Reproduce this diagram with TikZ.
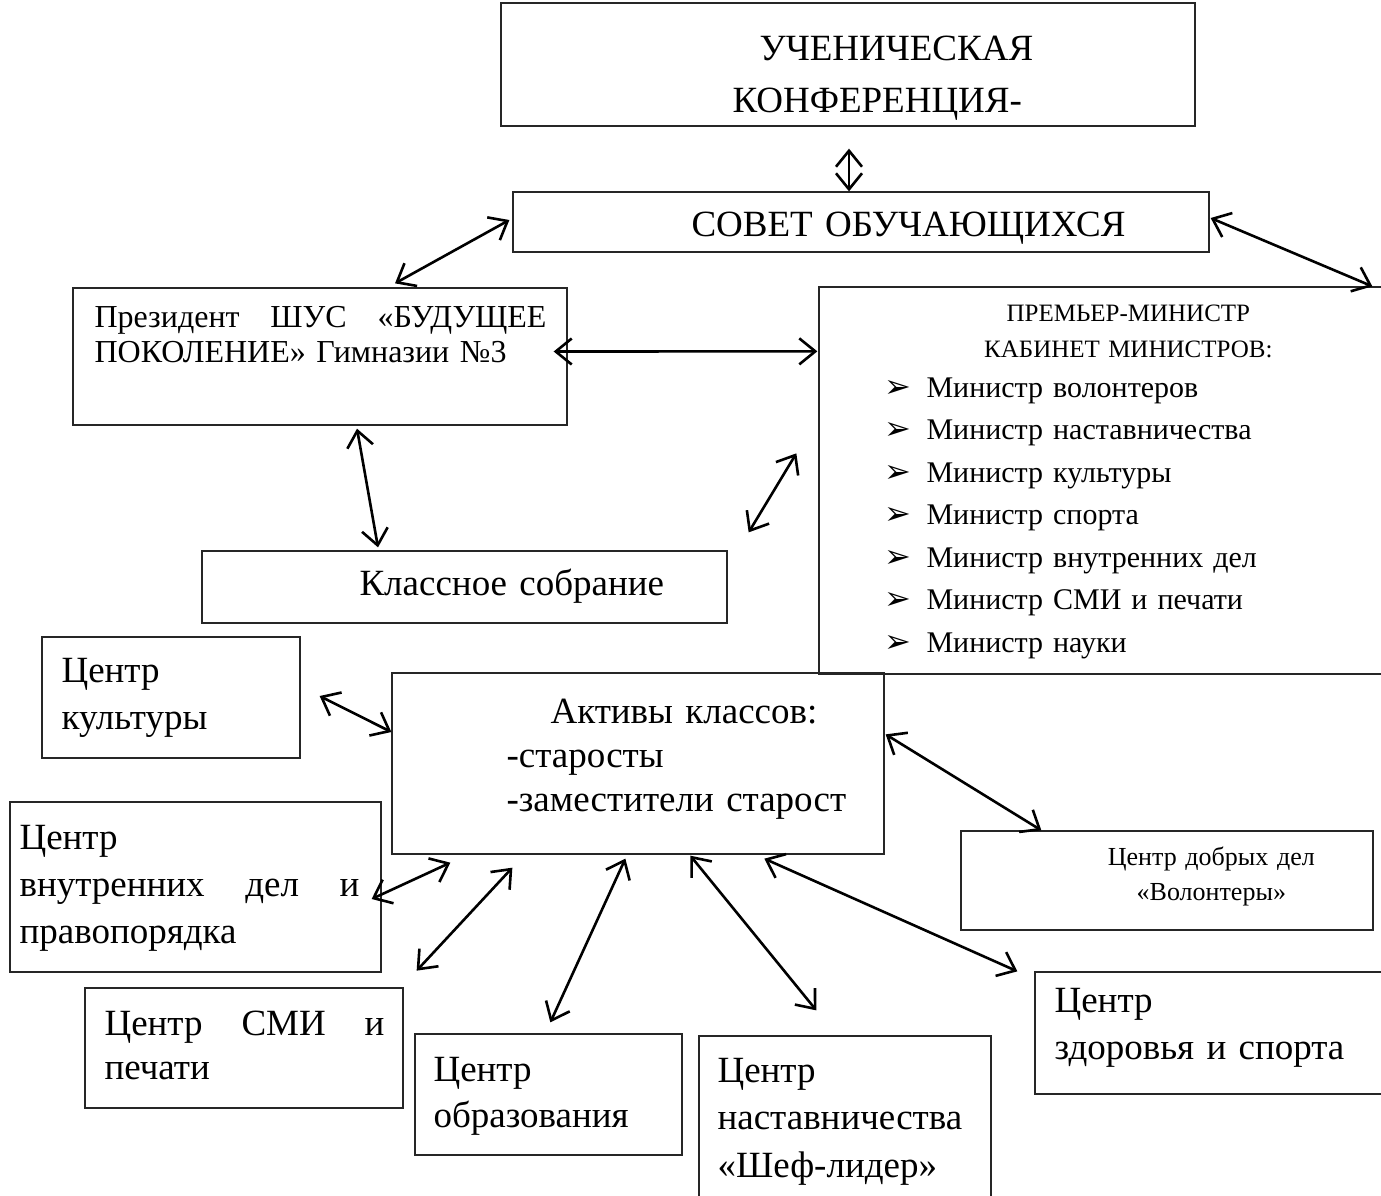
\documentclass[tikz,border=0pt]{standalone}
\usepackage{fontspec}
\setmainfont{Liberation Serif}
\newfontfamily\symfont{DejaVu Sans}
\usetikzlibrary{arrows.meta,calc}

\begin{document}
\begin{tikzpicture}[x=1pt,y=-1pt,
  box/.style={draw=black!85,line width=1.3pt,inner sep=0pt},
  txt/.style={anchor=base west,inner sep=0pt,text width=#1,align=left},
  ctxt/.style={anchor=base,inner sep=0pt,text width=#1,align=center},
  dbl/.style={{Straight Barb[length=16pt,width=26pt]}-{Straight Barb[length=16pt,width=26pt]},line width=2.6pt}]
\useasboundingbox (0,0) rectangle (1381,1195);
\clip (0,0) rectangle (1381,1195);
% boxes
\node[box,minimum width=694,minimum height=123] (konf) at (848,64.5) {};
\node[box,minimum width=696,minimum height=60] (sovet) at (861,222) {};
\node[box,minimum width=494,minimum height=137] (prez) at (320,356.5) {};
\node[box,minimum width=581,minimum height=387] (prem) at (1109.5,480.5) {};
\node[box,minimum width=525,minimum height=72] (klass) at (464.5,587) {};
\node[box,minimum width=258,minimum height=121] (kult) at (171,697.5) {};
\node[box,minimum width=492,minimum height=181] (aktiv) at (638,763.5) {};
\node[box,minimum width=371,minimum height=170] (vnutr) at (195.5,887) {};
\node[box,minimum width=412,minimum height=99] (dobr) at (1167,880.5) {};
\node[box,minimum width=318,minimum height=120] (smi) at (244,1048) {};
\node[box,minimum width=267,minimum height=121] (obraz) at (548.5,1094.5) {};
\node[box,minimum width=292,minimum height=194] (nast) at (845,1133) {};
\node[box,minimum width=365,minimum height=122] (zdor) at (1217.5,1033) {};
% texts
\node[txt=400,font=\fontsize{37}{52}\selectfont] (konf-t) at ($(konf.north west)+(232,58)$)
  {\hspace*{27pt}УЧЕНИЧЕСКАЯ\\КОНФЕРЕНЦИЯ-};
\node[txt=500,font=\fontsize{37}{44}\selectfont] (sovet-t) at ($(sovet.north west)+(179,45)$)
  {СОВЕТ ОБУЧАЮЩИХСЯ};
\node[txt=460,font=\fontsize{32}{35}\selectfont] (prez-t) at ($(prez.north west)+(22,40)$)
  {\makebox[452pt][s]{Президент\hfill ШУС\hfill «БУДУЩЕЕ}\\ПОКОЛЕНИЕ» Гимназии №3};
\node[ctxt=400,font=\fontsize{25}{36}\selectfont] (prem-t) at ($(prem.north west)+(310,35)$)
  {ПРЕМЬЕР-МИНИСТР\\КАБИНЕТ МИНИСТРОВ:};
\node[txt=480,font=\fontsize{30}{42.5}\selectfont] (prem-l) at ($(prem.north west)+(66,111)$)
  {\makebox[42pt][l]{\symfont\fontsize{32}{32}\selectfont ➢}Министр волонтеров\\
   \makebox[42pt][l]{\symfont\fontsize{32}{32}\selectfont ➢}Министр наставничества\\
   \makebox[42pt][l]{\symfont\fontsize{32}{32}\selectfont ➢}Министр культуры\\
   \makebox[42pt][l]{\symfont\fontsize{32}{32}\selectfont ➢}Министр спорта\\
   \makebox[42pt][l]{\symfont\fontsize{32}{32}\selectfont ➢}Министр внутренних дел\\
   \makebox[42pt][l]{\symfont\fontsize{32}{32}\selectfont ➢}Министр СМИ и печати\\
   \makebox[42pt][l]{\symfont\fontsize{32}{32}\selectfont ➢}Министр науки};
\node[txt=400,font=\fontsize{37}{47}\selectfont] (klass-t) at ($(klass.north west)+(158,45)$)
  {Классное собрание};
\node[txt=240,font=\fontsize{37}{47}\selectfont] (kult-t) at ($(kult.north west)+(20,46)$)
  {Центр\\культуры};
\node[txt=440,font=\fontsize{37}{44}\selectfont] (aktiv-t) at ($(aktiv.north west)+(115,51)$)
  {\hspace*{44pt}Активы классов:\\-старосты\\-заместители старост};
\node[txt=360,font=\fontsize{37}{47}\selectfont] (vnutr-t) at ($(vnutr.north west)+(10,48)$)
  {Центр\\\makebox[340pt][s]{внутренних\hfill дел\hfill и}\\правопорядка};
\node[ctxt=400,font=\fontsize{26}{35}\selectfont] (dobr-t) at ($(dobr.north west)+(251,35)$)
  {Центр добрых дел\\«Волонтеры»};
\node[txt=300,font=\fontsize{37}{44}\selectfont] (smi-t) at ($(smi.north west)+(20,48)$)
  {\makebox[280pt][s]{Центр\hfill СМИ\hfill и}\\печати};
\node[txt=260,font=\fontsize{37}{46}\selectfont] (obraz-t) at ($(obraz.north west)+(19,48)$)
  {Центр\\образования};
\node[txt=280,font=\fontsize{37}{47.5}\selectfont] (nast-t) at ($(nast.north west)+(19,47)$)
  {Центр\\наставничества\\«Шеф-лидер»};
\node[txt=340,font=\fontsize{37}{47}\selectfont] (zdor-t) at ($(zdor.north west)+(20,41)$)
  {Центр\\здоровья и спорта};
% arrows
\draw[dbl] ($(konf.south)+(1,22)$) -- ($(sovet.north)+(-12,0)$);
\draw[dbl] ($(sovet.west)+(-3,-2)$) -- ($(prez.north)+(75,-4)$);
\draw[dbl] ($(sovet.east)+(1,-4)$) -- ($(prem.north west)+(554,0)$);
\draw[dbl] ($(prez.east)+(-14,-5)$) -- ($(prem.north west)+(-1,65)$);
\draw[dbl] ($(prez.south)+(37,3)$) -- ($(klass.north)+(-86.5,-3)$);
\draw[dbl] ($(prem.north west)+(-22,167)$) -- ($(klass.north east)+(21,-18)$);
\draw[dbl] ($(kult.east)+(19,-1.5)$) -- ($(aktiv.west)+(0,-31.5)$);
\draw[dbl] ($(aktiv.north east)+(1,62)$) -- ($(dobr.north west)+(81,0)$);
\draw[dbl] ($(vnutr.east)+(-10,12)$) -- ($(aktiv.south west)+(59,8)$);
\draw[dbl] ($(vnutr.south east)+(35,-2)$) -- ($(aktiv.south west)+(121,13)$);
\draw[dbl] ($(obraz.north west)+(136,-11)$) -- ($(aktiv.south west)+(234,4)$);
\draw[dbl] ($(aktiv.south west)+(299,1)$) -- ($(nast.north west)+(118,-25)$);
\draw[dbl] ($(aktiv.south west)+(373,4)$) -- ($(zdor.north west)+(-17,0)$);
\end{tikzpicture}
\end{document}
